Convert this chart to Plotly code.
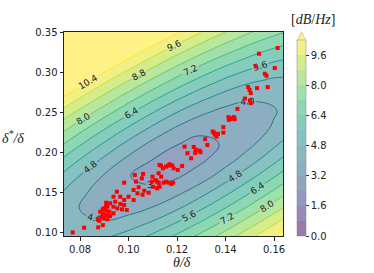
import plotly.graph_objects as go

# ---- contour field (dB/Hz) ----
theta_grid = [0.07, 0.08, 0.09, 0.10, 0.11, 0.12, 0.13, 0.14, 0.15, 0.16, 0.17]
delta_grid = [0.09, 0.11, 0.13, 0.15, 0.17, 0.19, 0.21, 0.23, 0.25, 0.27, 0.29, 0.31, 0.33, 0.35]
spl_grid = [
    [4.70, 4.65, 4.89, 5.38, 6.05, 6.85, 7.74, 8.69, 9.69, 10.73, 11.78],
    [4.47, 4.15, 4.13, 4.44, 5.00, 5.74, 6.60, 7.54, 8.54, 9.57, 10.63],
    [4.58, 3.98, 3.66, 3.69, 4.06, 4.70, 5.51, 6.43, 7.41, 8.44, 9.50],
    [5.02, 4.20, 3.58, 3.27, 3.35, 3.80, 4.51, 5.38, 6.34, 7.36, 8.41],
    [5.70, 4.76, 3.92, 3.22, 3.01, 3.10, 3.62, 4.43, 5.34, 6.33, 7.37],
    [6.56, 5.54, 4.60, 3.77, 3.17, 2.88, 3.08, 3.67, 4.47, 5.40, 6.41],
    [7.52, 6.48, 5.48, 4.55, 3.76, 3.22, 2.98, 3.28, 3.83, 4.63, 5.57],
    [8.56, 7.50, 6.48, 5.51, 4.63, 3.89, 3.40, 3.26, 3.52, 4.11, 4.90],
    [9.65, 8.59, 7.56, 6.57, 5.64, 4.81, 4.15, 3.73, 3.65, 3.93, 4.50],
    [10.78, 9.72, 8.68, 7.68, 6.73, 5.86, 5.10, 4.51, 4.17, 4.14, 4.42],
    [11.93, 10.88, 9.84, 8.84, 7.88, 6.97, 6.16, 5.47, 4.96, 4.69, 4.69],
    [13.10, 12.05, 11.02, 10.01, 9.05, 8.13, 7.28, 6.53, 5.91, 5.47, 5.25],
    [14.29, 13.24, 12.21, 11.21, 10.24, 9.31, 8.44, 7.65, 6.96, 6.41, 6.03],
    [15.48, 14.44, 13.42, 12.41, 11.44, 10.51, 9.62, 8.80, 8.07, 7.44, 6.94],
]

# ---- measured cases (red squares) ----
theta_pts = [
    0.1538, 0.1615, 0.1525, 0.1562, 0.1569, 0.1603, 0.1574, 0.1493, 0.1499, 0.1530,
    0.1504, 0.1480, 0.1501, 0.1504, 0.1449, 0.1412, 0.1421, 0.1428, 0.1435, 0.1438,
    0.1414, 0.1391, 0.1391, 0.1352, 0.1356, 0.1363, 0.1369, 0.1347, 0.1316, 0.1325,
    0.1269, 0.1277, 0.1275, 0.1297, 0.1293, 0.1258, 0.1243, 0.1221, 0.1203, 0.1186,
    0.1180, 0.1163, 0.1170, 0.1134, 0.1128, 0.1142, 0.1155, 0.1124, 0.1135, 0.1099,
    0.1111, 0.1118, 0.1097, 0.1101, 0.1118, 0.1128, 0.1145, 0.1155, 0.1166, 0.1184,
    0.1176, 0.1124, 0.1060, 0.1055, 0.1026, 0.1031, 0.1042, 0.1065, 0.1083, 0.1058,
    0.1037, 0.1021, 0.0982, 0.1021, 0.1000, 0.0982, 0.0966, 0.0952, 0.0938, 0.0945,
    0.0966, 0.0982, 0.0993, 0.0973, 0.0954, 0.0938, 0.0924, 0.0908, 0.0913, 0.0899,
    0.0908, 0.0921, 0.0938, 0.0924, 0.0908, 0.0894, 0.0890, 0.0899, 0.0913, 0.0894,
    0.0883, 0.0908, 0.0873, 0.0875, 0.0894, 0.0817, 0.0770, 0.0880, 0.1231,
]
delta_pts = [
    0.3229, 0.3300, 0.3070, 0.2979, 0.2954, 0.3050, 0.2813, 0.2813, 0.2779, 0.2800,
    0.2738, 0.2670, 0.2645, 0.2613, 0.2541, 0.2438, 0.2416, 0.2425, 0.2438, 0.2413,
    0.2404, 0.2313, 0.2245, 0.2245, 0.2220, 0.2195, 0.2229, 0.2258, 0.2163, 0.2091,
    0.2066, 0.2033, 0.1991, 0.2000, 0.2020, 0.1925, 0.1988, 0.1829, 0.1779, 0.1800,
    0.1833, 0.1833, 0.1850, 0.1833, 0.1841, 0.1800, 0.1820, 0.1738, 0.1695, 0.1695,
    0.1654, 0.1633, 0.1633, 0.1570, 0.1550, 0.1570, 0.1620, 0.1633, 0.1620, 0.1620,
    0.1604, 0.1620, 0.1729, 0.1675, 0.1716, 0.1633, 0.1563, 0.1520, 0.1495, 0.1470,
    0.1488, 0.1529, 0.1620, 0.1404, 0.1445, 0.1404, 0.1445, 0.1508, 0.1445, 0.1383,
    0.1354, 0.1341, 0.1279, 0.1288, 0.1300, 0.1320, 0.1363, 0.1370, 0.1320, 0.1300,
    0.1270, 0.1258, 0.1238, 0.1204, 0.1216, 0.1238, 0.1195, 0.1175, 0.1163, 0.1288,
    0.1258, 0.1329, 0.1166, 0.1063, 0.1091, 0.1058, 0.1000, 0.1145, 0.2070,
]

level_start, level_end, level_step = 0.0, 10.4, 0.8
cbar_ticks = [0.0, 1.6, 3.2, 4.8, 6.4, 8.0, 9.6]
x_ticks = [0.08, 0.10, 0.12, 0.14, 0.16]
y_ticks = [0.10, 0.15, 0.20, 0.25, 0.30, 0.35]

VIRIDIS = ["#440154", "#482475", "#414487", "#355f8d", "#2a788e", "#21918c",
           "#22a884", "#44bf70", "#7ad151", "#bddf26", "#fde725"]


def blend(hexc, a=0.55):
    r, g, b = (int(hexc[i:i + 2], 16) for i in (1, 3, 5))
    return "rgb(%d,%d,%d)" % tuple(round(a * c + (1 - a) * 255) for c in (r, g, b))


n = len(VIRIDIS) - 1
fill_scale = [[i / n, blend(c)] for i, c in enumerate(VIRIDIS)]
line_scale = [[i / n, c] for i, c in enumerate(VIRIDIS)]

W, H = 374, 273
L, R, T, B = 64, 91, 32, 37
PW, PH = W - L - R, H - T - B


def px(xp):
    return (xp - L) / PW


def py(yp):
    return (H - B - yp) / PH


fig = go.Figure()
fig.add_trace(go.Contour(
    x=theta_grid, y=delta_grid, z=spl_grid, zmin=level_start, zmax=level_end,
    autocontour=False,
    contours=dict(start=level_start, end=level_end, size=level_step,
                  coloring="fill", showlines=False),
    colorscale=fill_scale, line=dict(width=0, smoothing=1.3),
    colorbar=dict(x=px(297), xanchor="left", xpad=0, y=0, yanchor="bottom", ypad=0,
                  len=(H - B - 40.5) / PH, lenmode="fraction",
                  thickness=9, thicknessmode="pixels",
                  tickvals=cbar_ticks, ticktext=["%.1f" % t for t in cbar_ticks],
                  ticks="outside", ticklen=3, tickcolor="#333",
                  tickfont=dict(family="DejaVu Sans", size=10, color="#222"),
                  outlinewidth=0.5, outlinecolor="#888"),
    hoverinfo="skip",
))
fig.add_trace(go.Contour(
    x=theta_grid, y=delta_grid, z=spl_grid, zmin=level_start, zmax=level_end,
    autocontour=False,
    contours=dict(start=level_start, end=level_end, size=level_step,
                  coloring="lines", showlabels=True,
                  labelfont=dict(family="DejaVu Sans", size=9, color="#222"),
                  labelformat=".1f"),
    colorscale=line_scale, line=dict(width=1, smoothing=1.3),
    showscale=False, hoverinfo="skip",
))
fig.add_trace(go.Scatter(
    x=theta_pts, y=delta_pts, mode="markers",
    marker=dict(symbol="square", size=4, color="red", line=dict(width=0)),
    showlegend=False, hoverinfo="skip",
))

axis_common = dict(ticks="outside", ticklen=3.5, tickcolor="#222",
                   showline=True, mirror=True, linecolor="#222", linewidth=1,
                   showgrid=False, zeroline=False, tickformat=".2f",
                   tickfont=dict(family="DejaVu Sans", size=10, color="#222"))
fig.update_layout(
    width=W, height=H, margin=dict(l=L, r=R, t=T, b=B),
    paper_bgcolor="white", plot_bgcolor="white", showlegend=False,
    xaxis=dict(range=[0.0734, 0.1637], tickvals=x_ticks, **axis_common),
    yaxis=dict(range=[0.0955, 0.35], tickvals=y_ticks, **axis_common),
    shapes=[dict(type="path", xref="paper", yref="paper",
                 path="M %f,%f L %f,%f L %f,%f Z" % (px(297), py(40.5), px(306), py(40.5),
                                                     px(301.5), py(31.5)),
                 fillcolor=blend(VIRIDIS[-1]), line=dict(width=0.5, color="#aaa"))],
    annotations=[
        dict(text="θ/δ", xref="paper", yref="paper", x=px(182), y=py(262),
             xanchor="center", yanchor="middle", showarrow=False,
             font=dict(family="Liberation Serif", size=14, color="#222", style="italic")),
        dict(text="δ<sup>*</sup>/δ", xref="paper", yref="paper",
             x=px(0), y=py(137), xanchor="left", yanchor="middle", showarrow=False,
             font=dict(family="Liberation Serif", size=14, color="#222", style="italic")),
        dict(text="[<i>dB</i>/<i>Hz</i>]", xref="paper", yref="paper", x=px(313), y=py(19),
             xanchor="center", yanchor="middle", showarrow=False,
             font=dict(family="Liberation Serif", size=14, color="#222")),
    ],
)

fig.write_html("out.html", config={"displayModeBar": False},
               post_script="document.body.style.margin='0';document.body.style.padding='0';")
